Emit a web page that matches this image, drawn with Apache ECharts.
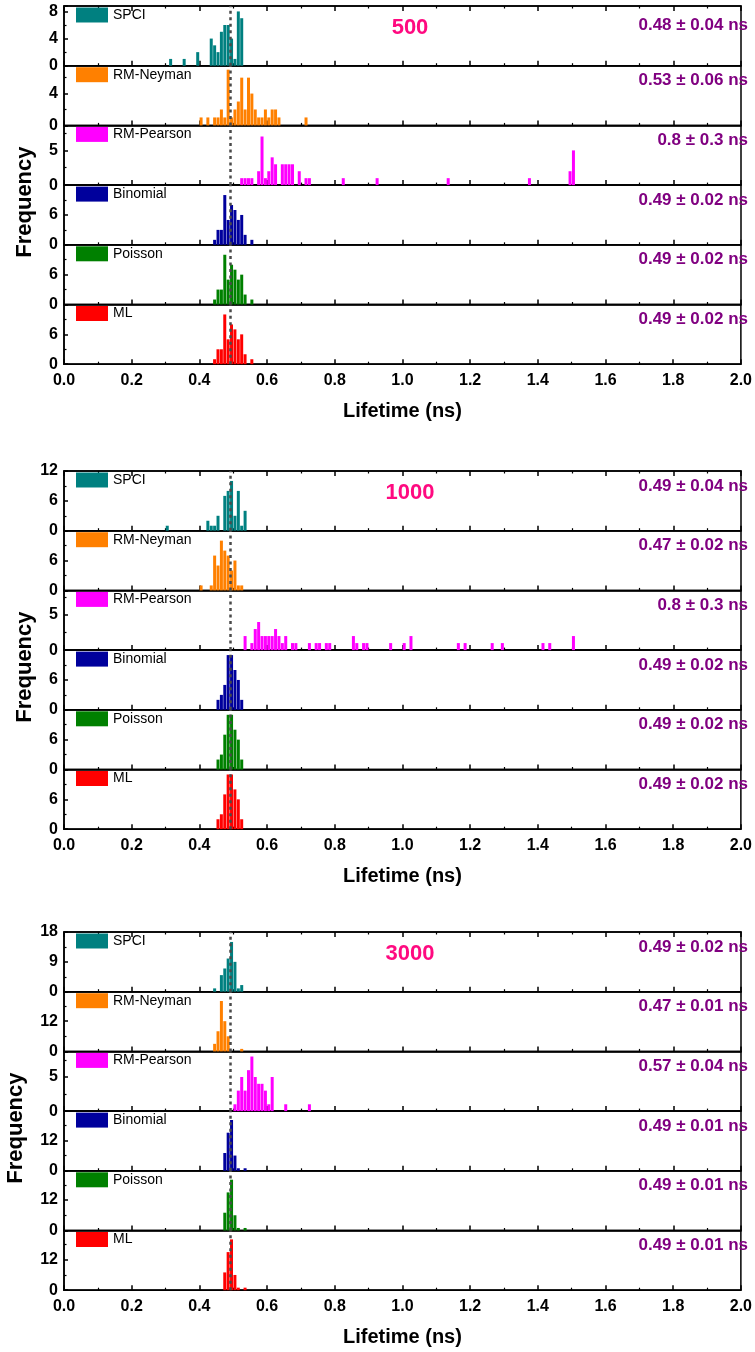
<!DOCTYPE html>
<html><head><meta charset="utf-8">
<script src="https://cdn.jsdelivr.net/npm/echarts@6/dist/echarts.min.js"></script>
<style>html,body{margin:0;padding:0;background:#fff}#c{width:755px;height:1352px}</style>
</head><body><div id="c"></div><script>
// ---------- data ----------
const categories = ['SPCI', 'RM-Neyman', 'RM-Pearson', 'Binomial', 'Poisson', 'ML'];
const sampleSizes = ['500', '1000', '3000'];
const lifetimeTexts = [
  ['0.48 ± 0.04 ns', '0.53 ± 0.06 ns', '0.8 ± 0.3 ns', '0.49 ± 0.02 ns', '0.49 ± 0.02 ns', '0.49 ± 0.02 ns'],
  ['0.49 ± 0.04 ns', '0.47 ± 0.02 ns', '0.8 ± 0.3 ns', '0.49 ± 0.02 ns', '0.49 ± 0.02 ns', '0.49 ± 0.02 ns'],
  ['0.49 ± 0.02 ns', '0.47 ± 0.01 ns', '0.57 ± 0.04 ns', '0.49 ± 0.01 ns', '0.49 ± 0.01 ns', '0.49 ± 0.01 ns']
];
const referenceLifetime = 0.49;
const xTickStep = 0.2;
const yMaxes = [[8.8, 7.5, 8.6, 12, 12, 12], [12, 12, 8.5, 12, 12, 12], [18, 23.7, 8.75, 23.5, 23.5, 23.5]];
const yTickSteps = [[4, 4, 5, 6, 6, 6], [6, 6, 5, 6, 6, 6], [9, 12, 5, 12, 12, 12]];

// histograms: [bin centre (ns), count]
const h500_SPCI = [[0.315,1],[0.355,1],[0.395,2],[0.435,4],[0.445,3],[0.455,2],[0.465,5],[0.475,6],[0.485,6],[0.495,4],[0.505,1],[0.515,8],[0.525,7]];
const h500_RMNeyman = [[0.405,1],[0.425,1],[0.445,1],[0.455,1],[0.465,2],[0.475,1],[0.485,7],[0.495,1],[0.505,2],[0.515,3],[0.525,6],[0.535,2],[0.545,6],[0.555,4],[0.565,2],[0.575,1],[0.585,1],[0.595,2],[0.605,1],[0.615,2],[0.625,2],[0.635,1],[0.715,1]];
const h500_RMPearson = [[0.525,1],[0.535,1],[0.545,1],[0.555,1],[0.575,2],[0.585,7],[0.595,1],[0.605,2],[0.615,4],[0.625,3],[0.645,3],[0.655,3],[0.665,3],[0.675,3],[0.695,2],[0.715,1],[0.725,1],[0.825,1],[0.925,1],[1.135,1],[1.375,1],[1.495,2],[1.505,5]];
const h500_Binomial = [[0.445,1],[0.455,3],[0.465,3],[0.475,10],[0.485,5],[0.495,8],[0.505,7],[0.515,5],[0.525,6],[0.535,2],[0.555,1]];
const h500_Poisson = [[0.445,1],[0.455,3],[0.465,3],[0.475,10],[0.485,5],[0.495,8],[0.505,7],[0.515,5],[0.525,6],[0.535,2],[0.555,1]];
const h500_ML = [[0.445,1],[0.455,3],[0.465,3],[0.475,10],[0.485,5],[0.495,8],[0.505,7],[0.515,5],[0.525,6],[0.535,2],[0.555,1]];

const h1000_SPCI = [[0.305,1],[0.425,2],[0.435,1],[0.445,1],[0.455,3],[0.475,7],[0.485,8],[0.495,10],[0.505,3],[0.515,8],[0.525,1],[0.535,4]];
const h1000_RMNeyman = [[0.405,1],[0.435,1],[0.445,7],[0.455,5],[0.465,10],[0.475,8],[0.485,7],[0.495,4],[0.505,6],[0.515,1],[0.525,1]];
const h1000_RMPearson = [[0.535,2],[0.555,1],[0.565,3],[0.575,4],[0.585,2],[0.595,2],[0.605,2],[0.615,2],[0.625,3],[0.635,2],[0.645,1],[0.655,2],[0.675,1],[0.685,1],[0.725,1],[0.745,1],[0.755,1],[0.775,1],[0.785,1],[0.855,2],[0.865,1],[0.885,1],[0.895,1],[0.965,1],[1.005,1],[1.025,2],[1.165,1],[1.185,1],[1.265,1],[1.295,1],[1.415,1],[1.435,1],[1.505,2]];
const h1000_Binomial = [[0.455,2],[0.465,3],[0.475,5],[0.485,11],[0.495,11],[0.505,8],[0.515,6],[0.525,2]];
const h1000_Poisson = [[0.455,2],[0.465,3],[0.475,7],[0.485,11],[0.495,11],[0.505,8],[0.515,6],[0.525,2]];
const h1000_ML = [[0.455,2],[0.465,3],[0.475,7],[0.485,11],[0.495,11],[0.505,8],[0.515,6],[0.525,2]];

const h3000_SPCI = [[0.445,1],[0.465,5],[0.475,7],[0.485,10],[0.495,15],[0.505,9],[0.515,1],[0.525,2]];
const h3000_RMNeyman = [[0.445,3],[0.455,8],[0.465,20],[0.475,12],[0.485,6],[0.525,1]];
const h3000_RMPearson = [[0.505,1],[0.515,3],[0.525,5],[0.535,3],[0.545,6],[0.555,8],[0.565,5],[0.575,4],[0.585,4],[0.595,3],[0.605,1],[0.615,5],[0.655,1],[0.725,1]];
const h3000_Binomial = [[0.475,7],[0.485,15],[0.495,20],[0.505,6],[0.515,1],[0.535,1]];
const h3000_Poisson = [[0.475,7],[0.485,15],[0.495,20],[0.505,6],[0.515,1],[0.535,1]];
const h3000_ML = [[0.475,7],[0.485,15],[0.495,20],[0.505,6],[0.515,1],[0.535,1]];

const histograms = [
  [h500_SPCI, h500_RMNeyman, h500_RMPearson, h500_Binomial, h500_Poisson, h500_ML],
  [h1000_SPCI, h1000_RMNeyman, h1000_RMPearson, h1000_Binomial, h1000_Poisson, h1000_ML],
  [h3000_SPCI, h3000_RMNeyman, h3000_RMPearson, h3000_Binomial, h3000_Poisson, h3000_ML]
];

// ---------- layout / style ----------
const FONT = "'Liberation Sans', Arial, Helvetica, sans-serif";
const COLORS = ['#008080', '#ff8000', '#ff00ff', '#00009c', '#008000', '#ff0000'];
const PANEL_TOP = [6, 471, 932];
const SUB_H = 59.7;
const LEFT = 64, WIDTH = 677;
const FREQ_X = [25, 25, 16];

const grids = [], xAxes = [], yAxes = [], series = [], legends = [], graphics = [];

for (let p = 0; p < 3; p++) {
  for (let s = 0; s < 6; s++) {
    const gi = grids.length;
    const top = PANEL_TOP[p] + s * SUB_H;
    const isBottom = s === 5;
    grids.push({ left: LEFT, width: WIDTH, top: top, height: SUB_H, show: true,
      borderColor: '#000', borderWidth: 1.5, backgroundColor: 'transparent' });
    const xi = xAxes.length;
    xAxes.push({
      type: 'value', gridIndex: gi, min: 0, max: 2, interval: xTickStep, position: 'bottom',
      axisLine: { show: true, onZero: false, lineStyle: { color: '#000', width: 1.5 } },
      axisTick: { show: true, inside: true, length: 5, lineStyle: { color: '#000', width: 1.5 } },
      minorTick: { show: true, splitNumber: 2, length: 2.5, lineStyle: { color: '#000', width: 1.2 } },
      splitLine: { show: false }, minorSplitLine: { show: false },
      axisLabel: { show: isBottom, fontSize: 16, fontWeight: 'bold', fontFamily: FONT, color: '#000', margin: 8,
        formatter: v => v.toFixed(1) },
      name: isBottom ? 'Lifetime (ns)' : '', nameLocation: 'middle', nameGap: 37,
      nameTextStyle: { fontSize: 20, fontWeight: 'bold', fontFamily: FONT, color: '#000' }
    });
    if (s === 0) {
      xAxes.push({
        type: 'value', gridIndex: gi, min: 0, max: 2, interval: xTickStep, position: 'top',
        axisLine: { show: true, onZero: false, lineStyle: { color: '#000', width: 1.5 } },
        axisTick: { show: true, inside: true, length: 5, lineStyle: { color: '#000', width: 1.5 } },
        minorTick: { show: true, splitNumber: 2, length: 2.5, lineStyle: { color: '#000', width: 1.2 } },
        splitLine: { show: false }, axisLabel: { show: false }
      });
    }
    const yMax = yMaxes[p][s], yStep = yTickSteps[p][s];
    yAxes.push({
      type: 'value', gridIndex: gi, min: 0, max: yMax, interval: yStep,
      axisLine: { show: true, lineStyle: { color: '#000', width: 1.5 } },
      axisTick: { show: true, inside: true, length: 4, lineStyle: { color: '#000', width: 1.5 } },
      minorTick: { show: true, splitNumber: 2, length: 2.5, lineStyle: { color: '#000', width: 1.2 } },
      splitLine: { show: false }, minorSplitLine: { show: false },
      axisLabel: { fontSize: 16, fontWeight: 'bold', fontFamily: FONT, color: '#000', margin: 6,
        formatter: v => {
          const r = v / yStep;
          if (Math.abs(r - Math.round(r)) > 1e-6) return '';
          if (s > 0 && v >= yMax - 1e-6) return '';
          return String(Math.round(v));
        } }
    });
    series.push({
      type: 'bar', name: categories[s], xAxisIndex: xi, yAxisIndex: gi,
      data: histograms[p][s], barWidth: 3, itemStyle: { color: COLORS[s] },
      silent: true, animation: false,
      markLine: { silent: true, symbol: ['none', 'none'], label: { show: false },
        lineStyle: { color: '#4a4a4a', width: 2.5, type: [3, 3.5] },
        data: [{ xAxis: referenceLifetime }] }
    });
    legends.push({
      left: 76, top: top + 1.5, padding: 0, itemWidth: 32, itemHeight: 15, icon: 'rect',
      selectedMode: false, data: [categories[s]],
      textStyle: { fontSize: 14, fontFamily: FONT, color: '#000' }
    });
    graphics.push({
      type: 'text', x: 748, y: top + (p === 0 && s === 0 ? 19 : 15), silent: true,
      style: { text: lifetimeTexts[p][s], fontSize: 17, fontWeight: 'bold', fontFamily: FONT,
        fill: '#800080', align: 'right', verticalAlign: 'middle' }
    });
  }
  graphics.push({
    type: 'text', x: 410, y: PANEL_TOP[p] + 22, silent: true,
    style: { text: sampleSizes[p], fontSize: 22, fontWeight: 'bold', fontFamily: FONT,
      fill: '#ff0a80', align: 'center', verticalAlign: 'middle' }
  });
  graphics.push({
    type: 'text', x: FREQ_X[p], y: PANEL_TOP[p] + 3 * SUB_H + 17, rotation: Math.PI / 2, silent: true,
    style: { text: 'Frequency', fontSize: 22, fontWeight: 'bold', fontFamily: FONT,
      fill: '#000', align: 'center', verticalAlign: 'middle' }
  });
}

const chart = echarts.init(document.getElementById('c'), null, { renderer: 'canvas' });
chart.setOption({
  animation: false,
  backgroundColor: '#fff',
  grid: grids, xAxis: xAxes, yAxis: yAxes, series: series, legend: legends,
  graphic: graphics
});
</script></body></html>
